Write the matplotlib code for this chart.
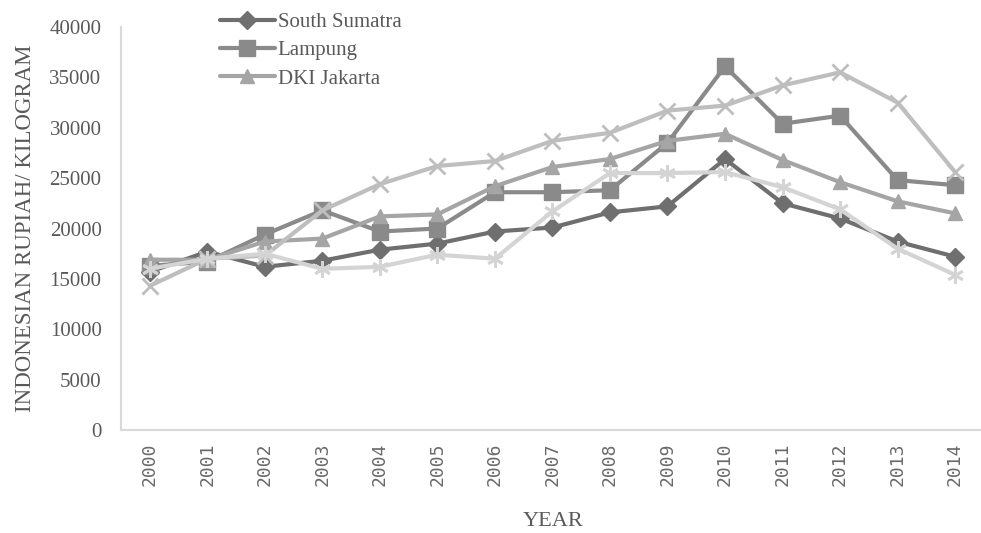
import matplotlib.pyplot as plt
import numpy as np

years = [str(y) for y in range(2000, 2015)]

south_sumatra = [15700, 17700, 16200, 16800, 17900, 18500, 19700, 20100, 21600, 22200, 26900, 22500, 21000, 18700, 17200]
lampung = [16300, 16700, 19400, 21800, 19700, 20000, 23600, 23600, 23800, 28500, 36100, 30400, 31200, 24800, 24300]
dki_jakarta = [16900, 16900, 18700, 19000, 21200, 21400, 24200, 26100, 26900, 28700, 29400, 26800, 24600, 22700, 21500]
series_x = [14300, 17000, 17300, 21800, 24400, 26200, 26700, 28700, 29500, 31700, 32200, 34200, 35500, 32500, 25600]
series_star = [16000, 17000, 17500, 16000, 16200, 17400, 17000, 21700, 25500, 25500, 25600, 24100, 21900, 18000, 15400]

styles = [
    ("South Sumatra", south_sumatra, "#6f6f6f", "D", 9),
    ("Lampung", lampung, "#8a8a8a", "s", 11),
    ("DKI Jakarta", dki_jakarta, "#a5a5a5", "^", 10),
    (None, series_x, "#bebebe", "x", 11),
    (None, series_star, "#d4d4d4", (6, 2, 0), 12),
]

serif = "Liberation Serif"
text_color = "#595959"

fig = plt.figure(figsize=(9.81, 5.33), dpi=100)
ax = fig.add_axes([121 / 981, 103 / 533, 860 / 981, 403 / 533])

x = np.arange(len(years))
handles = []
for label, vals, color, marker, ms in styles:
    line, = ax.plot(x, vals, color=color, lw=3, marker=marker, ms=ms,
                    mec=color, mfc=color, mew=2 if marker in ("x", (6, 2, 0)) else 1,
                    solid_joinstyle="round", solid_capstyle="round")
    if label:
        line.set_label(label)
        handles.append(line)

ax.set_xlim(-0.5, 14.45)
ax.set_ylim(0, 40000)
ax.set_yticks(np.arange(0, 40001, 5000))
ax.set_yticklabels([str(v) for v in range(0, 40001, 5000)], fontfamily=serif, fontsize=15, color=text_color)
ax.set_xticks(x)
ax.set_xticklabels(years, rotation=90, fontfamily="DejaVu Sans Mono", fontsize=13, color="#6a6a6a")
ax.tick_params(length=0, pad=9)
ax.tick_params(axis="y", pad=14)

for side in ("top", "right"):
    ax.spines[side].set_visible(False)
for side in ("left", "bottom"):
    ax.spines[side].set_color("#d9d9d9")
    ax.spines[side].set_linewidth(1.5)

ax.set_ylabel("INDONESIAN RUPIAH/ KILOGRAM", fontfamily=serif, fontsize=16.5, color=text_color, labelpad=10)
fig.text(553 / 981, 1 - 521 / 533, "YEAR", fontfamily=serif, fontsize=16, color=text_color,
         ha="center", va="center")

fig.legend(handles=handles, loc="upper left", bbox_to_anchor=(212 / 981, 1 - 4 / 533), frameon=False,
           prop={"family": serif, "size": 15}, labelcolor=text_color, handlelength=2.6,
           handletextpad=0.15, labelspacing=0.42, borderaxespad=0)

fig.savefig("out.png", dpi=100)
